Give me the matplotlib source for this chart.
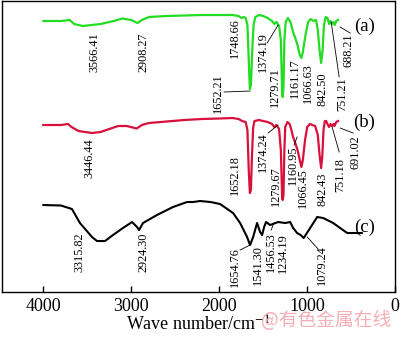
import matplotlib
matplotlib.use("Agg")
import matplotlib.pyplot as plt

plt.rcParams['font.family'] = ['Liberation Serif', 'DejaVu Serif']
plt.rcParams['mathtext.fontset'] = 'stix'

# ---- data (wavenumber, transmittance in arbitrary offset units) ----
wn_a = [4000, 3800, 3700, 3650, 3550, 3450, 3350, 3200, 3100, 3000, 2930, 2880, 2800, 2600,
        2400, 2200, 2000, 1850, 1780, 1748, 1720, 1700, 1680, 1665, 1652, 1640, 1625, 1610,
        1590, 1550, 1500, 1450, 1400, 1374, 1350, 1320, 1300, 1285, 1279, 1270, 1260, 1245,
        1220, 1190, 1161, 1140, 1110, 1085, 1066, 1050, 1020, 990, 960, 930, 900, 880, 860,
        842, 825, 810, 790, 770, 751, 735, 720, 700, 688, 670, 650]
t_a = [271, 271, 272, 268, 266, 267, 268, 271, 273.5, 272, 269, 272, 275, 276,
       276.5, 277, 277, 277, 276, 274, 275, 274, 267, 232, 203, 207, 242, 267,
       275, 277, 276, 274, 271, 268, 270, 266, 252, 200, 195, 205, 252, 270,
       274, 270, 260, 255, 247, 237, 234, 240, 257, 270, 273, 271, 272, 262, 242,
       229, 242, 267, 275, 274, 268, 271, 268, 270, 267, 271, 272]

wn_b = [4000, 3800, 3720, 3680, 3600, 3446, 3350, 3250, 3150, 3050, 2940, 2880, 2800, 2600,
        2400, 2200, 2000, 1850, 1780, 1740, 1700, 1680, 1665, 1652, 1640, 1630, 1615, 1600,
        1550, 1500, 1450, 1400, 1374, 1350, 1320, 1300, 1285, 1279, 1270, 1260, 1250, 1225,
        1200, 1180, 1161, 1140, 1110, 1085, 1066, 1050, 1025, 1000, 970, 940, 910, 880, 860,
        842, 828, 815, 800, 785, 770, 751, 735, 720, 700, 691, 670, 650]
t_b = [167, 167, 168, 165, 161, 159, 160, 163, 166, 166, 163.5, 167, 169, 170.5,
       172, 173, 173.5, 174, 173, 171, 170, 162, 122, 99, 102, 132, 164, 171,
       172, 171, 170, 168, 165, 167, 163, 142, 94, 92, 97, 142, 165, 170,
       168, 162, 155, 150, 142, 132, 125, 132, 152, 165, 168, 167, 166, 157, 137,
       124, 137, 162, 171, 171, 168, 165, 168, 166, 168, 166, 170, 171]

wn_c = [4000, 3800, 3675, 3584, 3447, 3390, 3299, 3208, 3095, 2992, 2935, 2912, 2867, 2708,
        2526, 2366, 2298, 2218, 2100, 1991, 1843, 1763, 1684, 1650, 1615, 1570, 1536, 1513,
        1490, 1468, 1422, 1331, 1251, 1194, 1160, 1115, 1075, 1040, 967, 887, 819, 705, 626,
        546, 432, 380]
t_c = [87, 86.5, 83, 69, 55, 51, 51, 57, 64, 70, 65, 62, 69, 77,
       85, 90, 90, 91, 90, 88, 79, 69, 55, 47, 55, 69, 60, 57,
       65, 70, 67, 70, 69, 70, 64, 59, 57, 54, 64, 75, 74, 69, 64,
       59, 59, 59]

xticks = [4000, 3000, 2000, 1000, 0]

# peak labels: text, x, y (top of rotated text)
labels_a = [("3566.41", 3424, 260), ("2908.27", 2867, 260), ("1748.66", 1820, 274),
            ("1652.21", 2014, 219), ("1374.19", 1502, 260), ("1279.71", 1365, 225),
            ("1161.17", 1138, 234), ("1066.63", 990, 229), ("842.50", 830, 220),
            ("751.21", 603, 215), ("688.21", 535, 259)]
labels_b = [("3446.44", 3481, 154), ("1652.18", 1820, 137), ("1374.24", 1502, 160),
            ("1279.67", 1354, 126), ("1160.95", 1160, 147), ("1066.45", 1047, 124),
            ("842.43", 830, 119), ("751.18", 626, 134), ("691.02", 455, 157)]
labels_c = [("3315.82", 3584, 60), ("2924.30", 2867, 59), ("1654.76", 1820, 45),
            ("1541.30", 1560, 47), ("1456.53", 1410, 60), ("1234.19", 1276, 59),
            ("1079.24", 830, 47)]

# leader lines: (x0, y0, x1, y1)
leaders = [(1945, 200, 1650, 201), (1456, 249, 1331, 267), (728, 270, 637, 215),
           (626, 265, 512, 259),
           (1445, 159, 1331, 167), (1149, 147, 1115, 155), (717, 165, 637, 140),
           (626, 164, 478, 159),
           (1763, 42, 1650, 47), (1410, 62, 1380, 69), (1001, 55, 876, 43)]

series_tags = [("(a)", 266), ("(b)", 170), ("(c)", 65)]

col_a = '#22dd22'
col_b = '#d8103c'
col_c = '#000000'

fig = plt.figure(figsize=(4.0, 3.37), dpi=100)
ax = fig.add_axes([0.005, 0.1335, 0.983, 0.8635])

ax.plot(wn_a, t_a, color=col_a, lw=1.6)
ax.plot(wn_b, t_b, color=col_b, lw=1.6)
ax.plot(wn_c, t_c, color=col_c, lw=1.5)

for lab_set in (labels_a, labels_b, labels_c):
    for txt, x, y in lab_set:
        ax.text(x, y, txt, rotation=90, ha='center', va='top', fontsize=8.8, color='black')

for x0, y0, x1, y1 in leaders:
    ax.plot([x0, x1], [y0, y1], color='black', lw=0.6)

for tag, y in series_tags:
    ax.text(350, y, tag, ha='center', va='center', fontsize=13.5)

ax.set_xlim(4470, 0)
ax.set_ylim(0, 291)
ax.set_xticks(xticks)
ax.set_xticklabels([str(v) for v in xticks], fontsize=13)
ax.tick_params(axis='x', direction='in', length=4, width=1, pad=4)
ax.set_yticks([])
for s in ax.spines.values():
    s.set_linewidth(1.0)
ax.set_xlabel("Wave number/cm$^{-1}$", fontsize=13, labelpad=1)

fig.text(0.815, 0.05, "@有色金属在线", ha='center', va='center', fontsize=13.5,
         color='#f4a0aa', alpha=0.85, family=['Noto Sans CJK SC', 'DejaVu Sans'])

fig.savefig("out.png", dpi=100)
